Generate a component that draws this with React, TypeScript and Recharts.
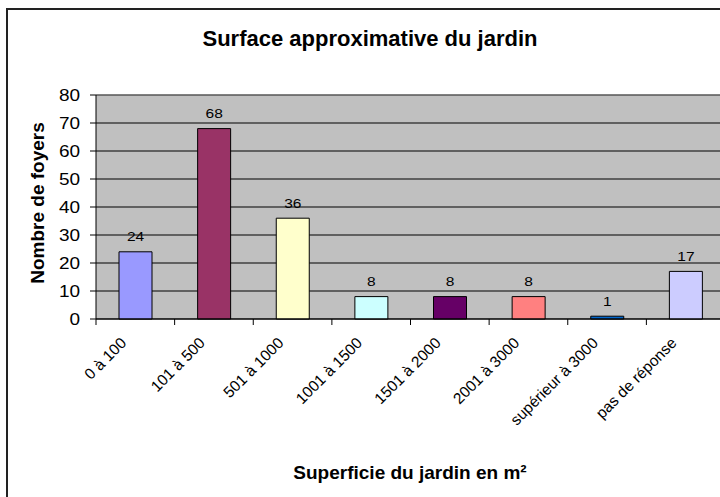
import { BarChart, Bar, XAxis, YAxis, CartesianGrid, Cell, LabelList, ReferenceLine } from "recharts"

const categories = ["0 à 100", "101 à 500", "501 à 1000", "1001 à 1500", "1501 à 2000", "2001 à 3000", "supérieur à 3000", "pas de réponse"]
const foyers = [24, 68, 36, 8, 8, 8, 1, 17]
const yTicks = [0, 10, 20, 30, 40, 50, 60, 70, 80]
const COLORS = ["#9999FF", "#993366", "#FFFFCC", "#CCFFFF", "#660066", "#FF8080", "#0066CC", "#CCCCFF"]

const data = categories.map((c, i) => ({ cat: c, value: foyers[i] }))

const FONT = "'Liberation Sans', Arial, sans-serif"
const HALF_BAND = 39.3
// numbers in the old Excel export look a bit wide
const STRETCH = 1.15

function CatTick(props: any) {
  const { x, y, payload } = props
  const ax = x - 8
  const ay = y + 17
  return (
    <g>
      <line x1={x - HALF_BAND} x2={x - HALF_BAND} y1={y - 8} y2={y - 2} stroke="#000" />
      <text transform={`translate(${ax} ${ay}) rotate(-45)`} textAnchor="end" fontSize={15.5} fontFamily={FONT} fill="#000">
        {payload.value}
      </text>
    </g>
  )
}

function ValTick(props: any) {
  const { x, y, payload } = props
  return (
    <text transform={`translate(${x} ${y}) scale(${STRETCH} 1)`} textAnchor="end" dy="0.36em" fontSize={16.5} fontFamily={FONT} fill="#000">
      {payload.value}
    </text>
  )
}

function BarValue(props: any) {
  const { x, y, width, value } = props
  const cx = Number(x) + Number(width) / 2
  const by = Number(y) - 10.5
  return (
    <text transform={`translate(${cx} ${by}) scale(${STRETCH} 1)`} textAnchor="middle" fontSize={13.5} fontFamily={FONT} fill="#000">
      {value}
    </text>
  )
}

export default function App() {
  return (
    <div style={{ position: "absolute", left: 0, top: 0, width: 720, height: 497, overflow: "hidden", background: "#fff" }}>
      <div style={{ position: "absolute", left: 6, top: 8, width: 728, height: 500, border: "2px solid #222", boxSizing: "border-box", background: "#fff" }}>
        <BarChart width={724} height={496} data={data} margin={{ top: 85, right: 7, bottom: 0, left: 0 }}>
          <CartesianGrid vertical={false} stroke="#000" fill="#C0C0C0" fillOpacity={1} />
          <ReferenceLine y={80} stroke="#808080" />
          <XAxis dataKey="cat" height={187} interval={0} tickLine={false} axisLine={{ stroke: "#000" }} tick={<CatTick />} />
          <YAxis width={88} domain={[0, 80]} ticks={yTicks} interval={0} tickSize={6} tickMargin={10} tickLine={{ stroke: "#000" }} axisLine={{ stroke: "#000" }} tick={<ValTick />} />
          <Bar dataKey="value" barSize={33} stroke="#000" strokeWidth={1} isAnimationActive={false}>
            {data.map((_, i) => <Cell key={i} fill={COLORS[i % COLORS.length]} />)}
            <LabelList dataKey="value" content={<BarValue />} />
          </Bar>
          <text x={362} y={36} textAnchor="middle" fontSize={22} fontWeight="bold" fontFamily={FONT} fill="#000">Surface approximative du jardin</text>
          <text x={29} y={193} textAnchor="middle" dominantBaseline="central" transform="rotate(-90 29 193)" fontSize={19} fontWeight="bold" fontFamily={FONT} fill="#000">Nombre de foyers</text>
          <text x={402} y={469} textAnchor="middle" fontSize={19} fontWeight="bold" fontFamily={FONT} fill="#000">Superficie du jardin en m²</text>
        </BarChart>
      </div>
    </div>
  )
}
